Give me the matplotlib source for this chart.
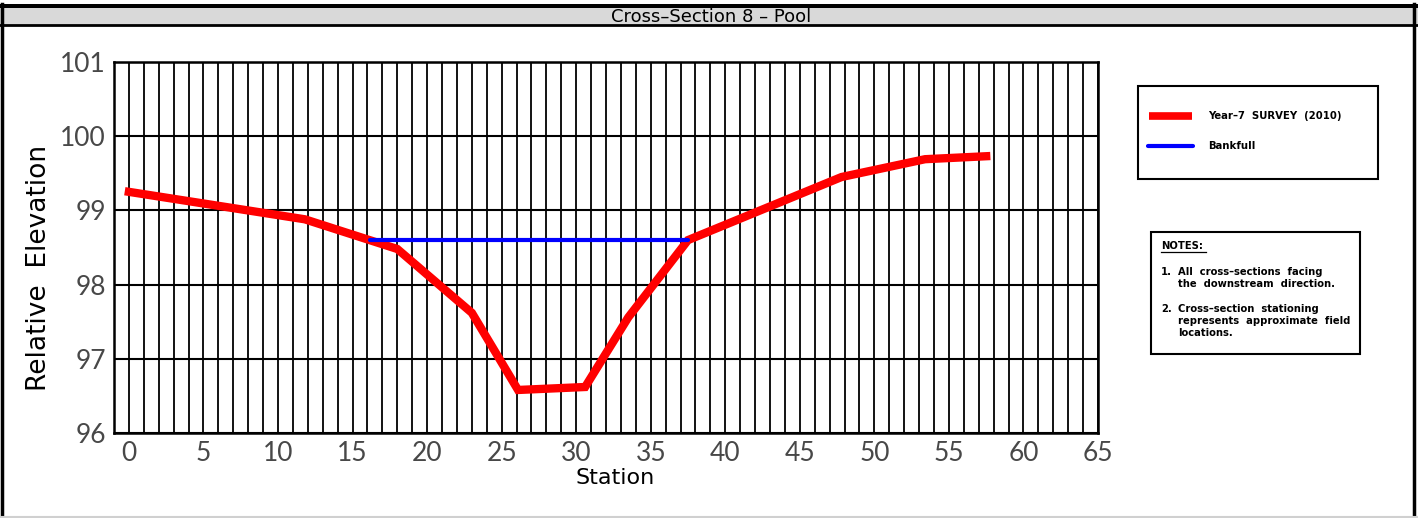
"""
Cross-Section 8 - Pool : perfil transversal com cota de bankfull.
"""
import matplotlib
matplotlib.use("Agg")
import matplotlib.pyplot as plt
from matplotlib.patches import Rectangle
from matplotlib.lines import Line2D

# Dados
station = [0, 11.8, 18.0, 23.0, 26.1, 30.6, 33.5, 37.5, 47.8, 53.4, 57.5]
elevation = [99.25, 98.88, 98.48, 97.62, 96.58, 96.62, 97.56, 98.60, 99.45, 99.69, 99.73]

bankfull_x = [16.2, 37.5]
bankfull_y = [98.6, 98.6]

x_ticks = list(range(0, 66, 5))
y_ticks = [96, 97, 98, 99, 100, 101]

W, H = 1418, 518
fig = plt.figure(figsize=(W / 100, H / 100), dpi=100)


def fx(px):
    return px / W


def fy(py):
    return 1 - py / H


# --- moldura e faixa do título ---
fig.add_artist(Rectangle((fx(0), fy(26)), 1, fy(8) - fy(26), transform=fig.transFigure,
                         facecolor="#d9d9d9", edgecolor="none"))
fig.add_artist(Rectangle((fx(0), fy(8)), 1, fy(4) - fy(8), transform=fig.transFigure,
                         facecolor="black", edgecolor="none"))
fig.add_artist(Line2D([0, 1], [fy(25), fy(25)], transform=fig.transFigure, color="black", lw=2))
fig.add_artist(Line2D([fx(1.5), fx(1.5)], [fy(4), fy(518)], transform=fig.transFigure,
                      color="black", lw=2.5))
fig.add_artist(Line2D([fx(1414), fx(1414)], [fy(4), fy(518)], transform=fig.transFigure,
                      color="black", lw=2.5))
fig.add_artist(Line2D([0, 1], [fy(516.5), fy(516.5)], transform=fig.transFigure,
                      color="#d0d0d0", lw=1.5))
fig.text(fx(711), fy(16.5), "Cross\u2013Section 8 \u2013 Pool", ha="center", va="center",
         fontsize=13, family="DejaVu Sans")

# --- eixos ---
ax = fig.add_axes([fx(114), fy(433), fx(1098) - fx(114), fy(62) - fy(433)])
ax.set_xlim(-1, 65)
ax.set_ylim(96, 101)

for xv in range(-1, 66):
    ax.axvline(xv, color="black", lw=1.3, zorder=1)
for yv in y_ticks:
    ax.axhline(yv, color="black", lw=1.5, zorder=1)

ax.plot(bankfull_x, bankfull_y, color="#0000ff", lw=3, solid_capstyle="round", zorder=3)
ax.plot(station, elevation, color="#ff0000", lw=6, solid_joinstyle="miter", zorder=2)

for s in ax.spines.values():
    s.set_linewidth(1.8)

ax.set_xticks(x_ticks)
ax.set_yticks(y_ticks)
ax.tick_params(length=0, pad=6, labelsize=19, labelcolor="#484848")
for lab in ax.get_xticklabels() + ax.get_yticklabels():
    lab.set_family("Lato")
    lab.set_fontweight("normal")

ax.set_xlabel("Station", fontsize=16, family="DejaVu Sans")
ax.set_ylabel("Relative  Elevation", fontsize=19, family="DejaVu Sans")
ax.xaxis.set_label_coords(0.509, -0.121)
ax.yaxis.set_label_coords(-0.076, 0.445)
ax.xaxis.label.set_va("center")
ax.yaxis.label.set_va("center")

# --- legenda ---
fig.add_artist(Rectangle((fx(1138), fy(179)), fx(1378) - fx(1138), fy(86) - fy(179),
                         transform=fig.transFigure, facecolor="white", edgecolor="black", lw=1.5))
fig.add_artist(Line2D([fx(1149), fx(1192)], [fy(116), fy(116)], transform=fig.transFigure,
                      color="#ff0000", lw=5.5, solid_capstyle="butt"))
fig.add_artist(Line2D([fx(1148), fx(1193)], [fy(146), fy(146)], transform=fig.transFigure,
                      color="#0000ff", lw=3, solid_capstyle="round"))
fig.text(fx(1208), fy(116), "Year\u20137  SURVEY  (2010)", ha="left", va="center",
         fontsize=7.3, fontweight="bold", family="DejaVu Sans")
fig.text(fx(1208), fy(146), "Bankfull", ha="left", va="center",
         fontsize=7.3, fontweight="bold", family="DejaVu Sans")

# --- notas ---
fig.add_artist(Rectangle((fx(1151), fy(354)), fx(1360) - fx(1151), fy(232) - fy(354),
                         transform=fig.transFigure, facecolor="white", edgecolor="black", lw=1.5))
fig.text(fx(1161), fy(246), "NOTES:", ha="left", va="center", fontsize=7.2,
         fontweight="bold", family="DejaVu Sans")
fig.add_artist(Line2D([fx(1161), fx(1206)], [fy(252), fy(252)], transform=fig.transFigure,
                      color="black", lw=0.9))
notes = [
    (1161, 272, "1."), (1178, 272, "All  cross\u2013sections  facing"),
    (1178, 284, "the  downstream  direction."),
    (1161, 309, "2."), (1178, 309, "Cross\u2013section  stationing"),
    (1178, 321, "represents  approximate  field"),
    (1178, 333, "locations."),
]
for x0, y0, t in notes:
    fig.text(fx(x0), fy(y0), t, ha="left", va="center", fontsize=7.2,
             fontweight="bold", family="DejaVu Sans")

plt.savefig("out.png", dpi=100)
